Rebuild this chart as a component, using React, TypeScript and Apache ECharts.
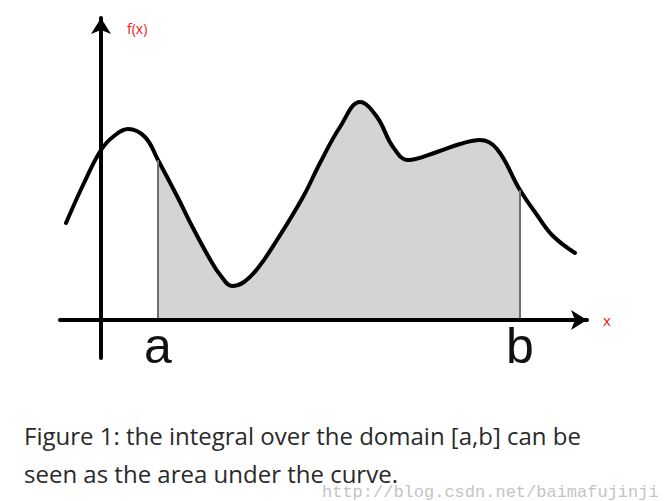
import React, { useEffect, useRef } from "react";
import * as echarts from "echarts";

// Curve samples (origin at the axes' crossing, 1 unit = 1 px)
const curveX = [-35, -17, 0, 13, 27, 44, 57, 76, 92, 110, 120, 131, 143, 157, 176, 202, 219, 239, 259, 276, 292, 307, 336, 359, 379, 396, 419, 436, 452, 474];
const curveY = [97, 137, 170, 184, 191, 183, 160, 124, 92, 59, 44, 34, 38, 52, 80, 123, 157, 193, 218, 203, 173, 160, 168, 176, 180, 171, 130, 105, 84, 67];

// Integration bounds (indices into the curve arrays) and their tick labels
const boundIndex = [6, 26];
const tickLabels = ["a", "b"];

const captionLines = [
  "Figure 1: the integral over the domain [a,b] can be",
  "seen as the area under the curve.",
];
const watermark = "http://blog.csdn.net/baimafujinji";

const FILL = "#d4d4d4";
const RED = "#f01818";
const SMOOTH = 0.4;

export default function App() {
  const ref = useRef<HTMLDivElement>(null);
  useEffect(() => {
    if (!ref.current) return;
    const chart = echarts.init(ref.current, null, { renderer: "svg" });
    const data = curveX.map((x, i) => [x, curveY[i]]);
    const A = curveX[boundIndex[0]];
    const B = curveX[boundIndex[1]];
    const tickValues = boundIndex.map((i) => curveX[i]);

    const axisLine = (symbol: any) => ({
      show: true,
      onZero: true,
      symbol,
      symbolSize: [15, 16],
      lineStyle: { color: "#000", width: 4 },
    });

    chart.setOption({
      animation: false,
      backgroundColor: "#fff",
      grid: { left: 60, right: 79, top: 18, bottom: 143, containLabel: false },
      xAxis: {
        type: "value",
        min: -41,
        max: 486,
        z: 10,
        axisLine: axisLine(["none", "arrow"]),
        axisTick: { show: false },
        splitLine: { show: false },
        axisLabel: {
          show: true,
          customValues: tickValues,
          formatter: (v: number) => tickLabels[tickValues.indexOf(v)] ?? "",
          fontSize: 50,
          fontFamily: "Liberation Sans",
          color: "#111",
          margin: -37,
        },
        name: "x",
        nameLocation: "end",
        nameGap: 16,
        nameTextStyle: {
          color: RED,
          fontSize: 15,
          fontFamily: "Open Sans",
          padding: [8, 0, 0, 0],
        },
      },
      yAxis: {
        type: "value",
        min: -38,
        max: 302,
        z: 10,
        axisLine: axisLine(["none", "arrow"]),
        axisTick: { show: false },
        splitLine: { show: false },
        axisLabel: { show: false },
        name: "f(x)",
        nameLocation: "end",
        nameGap: -17,
        nameTextStyle: {
          color: RED,
          fontSize: 14,
          fontFamily: "Open Sans",
          align: "left",
          verticalAlign: "bottom",
          padding: [0, 0, 0, 26],
        },
      },
      visualMap: {
        type: "piecewise",
        show: false,
        seriesIndex: 0,
        dimension: 0,
        pieces: [{ gte: A, lte: B, color: FILL }],
        outOfRange: { color: "rgba(255,255,255,0)" },
      },
      series: [
        {
          type: "line",
          data,
          smooth: SMOOTH,
          symbol: "none",
          z: 1,
          lineStyle: { width: 0, opacity: 0 },
          areaStyle: { opacity: 1 },
          markLine: {
            silent: true,
            symbol: ["none", "none"],
            label: { show: false },
            lineStyle: { color: "#707070", width: 2, type: "solid" },
            data: boundIndex.map((i) => [
              { coord: [curveX[i], 0] },
              { coord: [curveX[i], curveY[i]] },
            ]),
          },
        },
        {
          type: "line",
          data,
          smooth: SMOOTH,
          symbol: "none",
          z: 3,
          lineStyle: { color: "#000", width: 4, cap: "round", join: "round" },
        },
      ],
      graphic: [
        {
          type: "text",
          left: 24,
          top: 423,
          style: { text: captionLines[0], fontSize: 24, fontFamily: "Open Sans", fill: "#2a2a2a" },
        },
        {
          type: "text",
          left: 24,
          top: 461,
          style: { text: captionLines[1], fontSize: 24, fontFamily: "Open Sans", fill: "#2a2a2a" },
        },
        {
          type: "text",
          left: 322,
          top: 484,
          style: { text: watermark, fontSize: 17, fontFamily: "Liberation Mono", fill: "#c4c4c4" },
        },
      ],
    });
    return () => chart.dispose();
  }, []);
  return (
    <div
      ref={ref}
      style={{ position: "absolute", left: 0, top: 0, width: 666, height: 501 }}
    />
  );
}
